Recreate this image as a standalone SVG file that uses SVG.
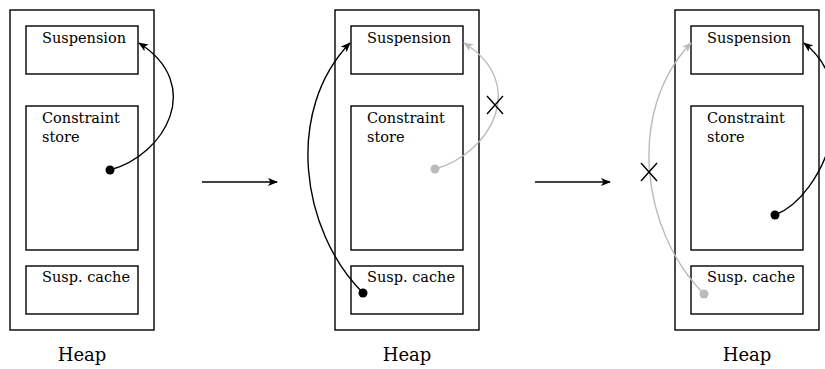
<svg xmlns="http://www.w3.org/2000/svg" width="825" height="369" viewBox="0 0 825 369">
<style>
.box{fill:none;stroke:#000;stroke-width:1.4}
.t{font-family:"DejaVu Serif",serif;font-size:14.5px;fill:#000}
.h{font-family:"DejaVu Serif",serif;font-size:18px;fill:#000;text-anchor:middle}
.blk{fill:none;stroke:#000;stroke-width:1.4}
.gry{fill:none;stroke:#bbb;stroke-width:1.4}
</style>
<defs>
<marker id="ab" markerWidth="10" markerHeight="8" refX="9" refY="4" orient="auto" markerUnits="userSpaceOnUse"><path d="M0,0 L10,4 L0,8 L2.5,4 Z" fill="#000"/></marker>
<marker id="ag" markerWidth="10" markerHeight="8" refX="9" refY="4" orient="auto" markerUnits="userSpaceOnUse"><path d="M0,0 L10,4 L0,8 L2.5,4 Z" fill="#bbb"/></marker>
</defs>
<g id="heap1">
<rect class="box" x="10" y="10" width="144" height="320"/>
<rect class="box" x="26" y="26" width="112" height="48"/>
<text class="t" x="42" y="43">Suspension</text>
<rect class="box" x="26" y="106" width="112" height="144"/>
<text class="t" x="42" y="123">Constraint</text>
<text class="t" x="42" y="142">store</text>
<rect class="box" x="26" y="266" width="112" height="48"/>
<text class="t" x="42" y="282">Susp. cache</text>
<text class="h" x="82" y="361">Heap</text>
</g>
<g id="heap2">
<rect class="box" x="335" y="10" width="144" height="320"/>
<rect class="box" x="351" y="26" width="112" height="48"/>
<text class="t" x="367" y="43">Suspension</text>
<rect class="box" x="351" y="106" width="112" height="144"/>
<text class="t" x="367" y="123">Constraint</text>
<text class="t" x="367" y="142">store</text>
<rect class="box" x="351" y="266" width="112" height="48"/>
<text class="t" x="367" y="282">Susp. cache</text>
<text class="h" x="407" y="361">Heap</text>
</g>
<g id="heap3">
<rect class="box" x="675" y="10" width="144" height="320"/>
<rect class="box" x="691" y="26" width="112" height="48"/>
<text class="t" x="707" y="43">Suspension</text>
<rect class="box" x="691" y="106" width="112" height="144"/>
<text class="t" x="707" y="123">Constraint</text>
<text class="t" x="707" y="142">store</text>
<rect class="box" x="691" y="266" width="112" height="48"/>
<text class="t" x="707" y="282">Susp. cache</text>
<text class="h" x="747" y="361">Heap</text>
</g>
<g id="connectors">
<path class="blk" d="M110,170 C165,155 205,85 139,43" marker-end="url(#ab)"/>
<circle cx="110" cy="170" r="4.5" fill="#000"/>
<path class="gry" d="M435,169 C490,154 530,84 464,43" marker-end="url(#ag)"/>
<circle cx="435" cy="169" r="4.5" fill="#bbb"/>
<path class="blk" d="M363,293 C300,230 285,110 350,43" marker-end="url(#ab)"/>
<circle cx="363" cy="293" r="4.5" fill="#000"/>
<path class="blk" d="M487,96 L503,114 M503,96 L487,114"/>
<path class="gry" d="M704,294 C641,231 626,111 691,43" marker-end="url(#ag)"/>
<circle cx="704" cy="294" r="4.5" fill="#bbb"/>
<path class="blk" d="M641,163 L657,181 M657,163 L641,181"/>
<path class="blk" d="M775,215 C825,195 865,90 804,43" marker-end="url(#ab)"/>
<circle cx="775" cy="215" r="4.5" fill="#000"/>
<path class="blk" d="M202,182 L277,182" marker-end="url(#ab)"/>
<path class="blk" d="M535,182 L610,182" marker-end="url(#ab)"/>
</g>
</svg>
